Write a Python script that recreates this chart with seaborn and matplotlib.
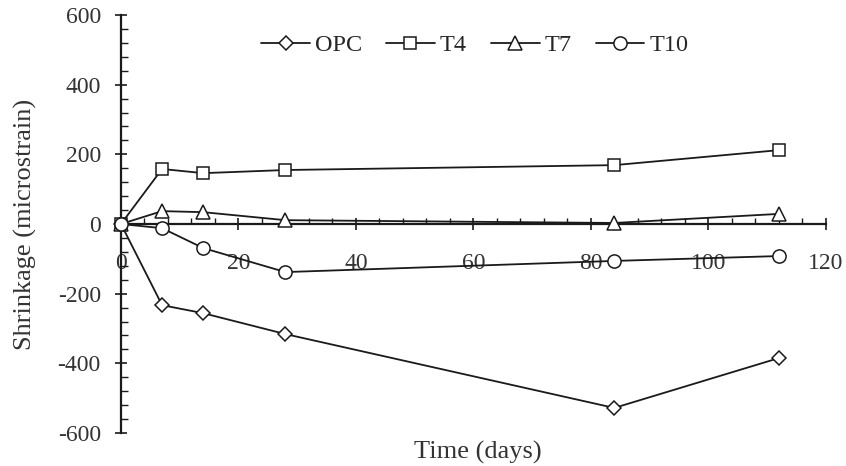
import matplotlib
matplotlib.use("Agg")
import matplotlib.pyplot as plt
import seaborn as sns
import pandas as pd
from matplotlib.ticker import MultipleLocator

# Data
days = [0, 7, 14, 28, 84, 112]
opc = [0, -233, -256, -316, -528, -385]
t4 = [0, 158, 146, 155, 169, 212]
t7 = [0, 37, 34, 11, 3, 29]
t10 = [0, -12, -69, -138, -106, -92]
series_names = ["OPC", "T4", "T7", "T10"]
x_ticks = [0, 20, 40, 60, 80, 100, 120]
y_ticks = [-600, -400, -200, 0, 200, 400, 600]

rows = []
for name, vals in zip(series_names, [opc, t4, t7, t10]):
    for d, v in zip(days, vals):
        rows.append({"Time": d, "Shrinkage": v, "Mix": name})
df = pd.DataFrame(rows)

sns.set_style("ticks")
plt.rcParams["font.family"] = ["Liberation Serif", "DejaVu Serif"]
plt.rcParams["axes.unicode_minus"] = False

fig = plt.figure(figsize=(8.46, 4.66), dpi=100)
ax = fig.add_axes([0.143, 0.0708, 0.833, 0.897])

markers = {"OPC": "D", "T4": "s", "T7": "^", "T10": "o"}
sizes = {"OPC": 7.5, "T4": 9, "T7": 9.5, "T10": 9.5}
for name in series_names:
    sub = df[df["Mix"] == name]
    sns.lineplot(data=sub, x="Time", y="Shrinkage", ax=ax, color="#1a1a1a",
                 marker=markers[name], markersize=sizes[name],
                 markerfacecolor="white", markeredgecolor="#1a1a1a",
                 markeredgewidth=1.1, linewidth=1.3, label=name, legend=False,
                 clip_on=False, zorder=3)

ax.set_xlim(0, 120)
ax.set_ylim(-600, 600)
ax.set_xticks(x_ticks)
ax.set_yticks(y_ticks)
ax.xaxis.set_minor_locator(MultipleLocator(4))
ax.yaxis.set_minor_locator(MultipleLocator(40))

ax.spines["top"].set_visible(False)
ax.spines["right"].set_visible(False)
ax.spines["bottom"].set_position(("data", 0))
for s in ("left", "bottom"):
    ax.spines[s].set_linewidth(1.6)
    ax.spines[s].set_color("#1a1a1a")
    ax.spines[s].set_zorder(2)

ax.tick_params(axis="x", which="major", direction="inout", length=8, width=1.2,
               pad=17, labelsize=17, colors="#1a1a1a", labelcolor="#333333")
ax.tick_params(axis="x", which="minor", direction="in", length=4, width=1.0, colors="#1a1a1a")
ax.tick_params(axis="y", which="major", direction="inout", length=9, width=1.2,
               pad=10, labelsize=17, colors="#1a1a1a", labelcolor="#333333")
ax.tick_params(axis="y", which="minor", direction="in", length=5, width=1.0, colors="#1a1a1a")

ax.set_xlabel("")
ax.set_ylabel("Shrinkage (microstrain)", fontsize=19, color="#333333", labelpad=15)
fig.text(0.565, 0.03, "Time (days)", fontsize=19, color="#333333", ha="center", va="center")

handles = [l for l in ax.lines if l.get_label() in series_names]
ax.legend(handles=handles, labels=series_names, ncol=4, frameon=False,
          loc="center", bbox_to_anchor=(0.502, 0.928), fontsize=17.5,
          handlelength=2.0, handletextpad=0.2, columnspacing=1.0)

fig.savefig("out.png", dpi=100)
